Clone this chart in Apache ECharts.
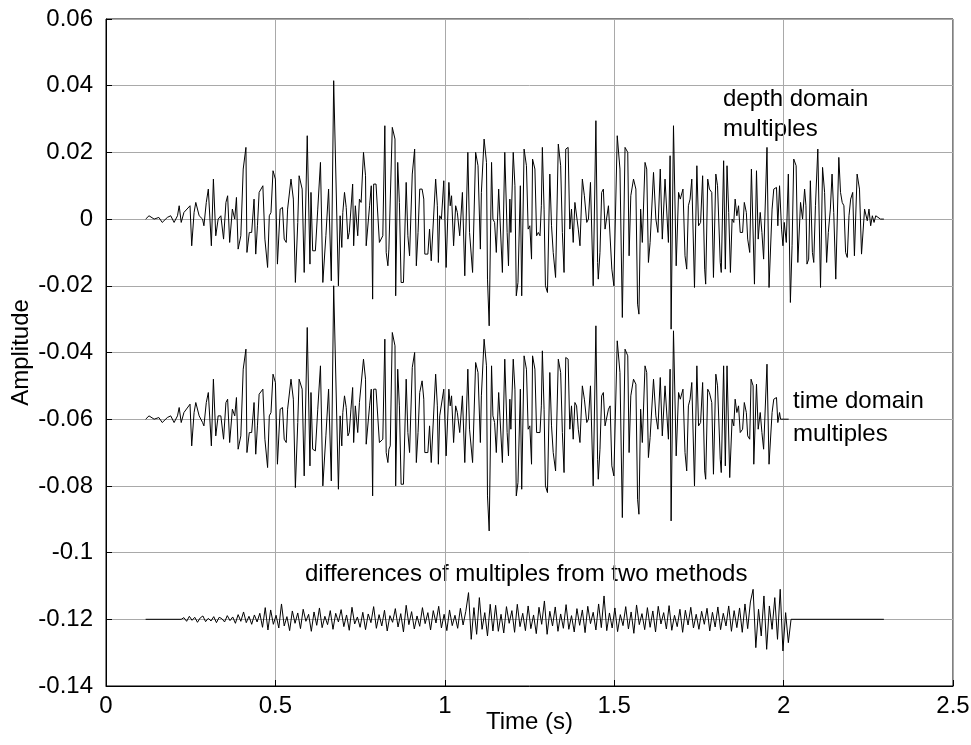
<!DOCTYPE html>
<html>
<head>
<meta charset="utf-8">
<script src="https://cdn.jsdelivr.net/npm/echarts@6/dist/echarts.min.js"></script>
<style>
html,body{margin:0;padding:0;background:#fff;}
#c{width:971px;height:745px;}
</style>
</head>
<body>
<div id="c"></div>
<script>
// ---- data (time in s, amplitude) ----
const xTicks = [0, 0.5, 1, 1.5, 2, 2.5];
const yTicks = [-0.14, -0.12, -0.1, -0.08, -0.06, -0.04, -0.02, 0, 0.02, 0.04, 0.06];
const traceNames = ['depth domain multiples', 'time domain multiples', 'differences of multiples from two methods'];
const traceOffsets = [0, -0.06, -0.12];

const depthPts = [
[0.117,0],[0.122,-0.0005],[0.127,0.001],[0.142,0],[0.156,0.0005],[0.166,-0.001],[0.181,0.0005],[0.191,0.001],[0.201,-0.001],[0.211,0.001],
[0.216,0.004],[0.222,-0.001],[0.230,0.002],[0.248,0.004],[0.253,-0.008],[0.260,0.002],[0.265,0.005],[0.275,0.001],[0.285,0],[0.289,-0.002],
[0.296,0.005],[0.302,0.009],[0.311,-0.008],[0.317,0.012],[0.324,-0.005],[0.331,0],[0.339,0.001],[0.347,-0.006],[0.354,0.005],[0.359,0.007],
[0.365,-0.007],[0.373,0.003],[0.380,0],[0.385,0.0065],[0.390,-0.009],[0.398,-0.005],[0.405,0.015],[0.413,0.0215],[0.416,-0.010],[0.423,-0.004],
[0.430,-0.004],[0.437,0.006],[0.442,-0.0105],[0.447,-0.002],[0.452,0.008],[0.457,0.008],[0.463,0.010],[0.469,-0.006],[0.477,-0.0145],[0.482,0.001],
[0.487,0.002],[0.493,0.0145],[0.500,0.012],[0.506,-0.0135],[0.514,0.003],[0.521,0.0035],[0.526,-0.006],[0.532,-0.007],[0.536,0.003],[0.546,0.012],
[0.553,0.006],[0.559,-0.019],[0.566,-0.001],[0.570,0.013],[0.579,0.009],[0.585,-0.016],[0.594,0.025],[0.602,-0.0135],[0.605,0.008],[0.610,-0.0095],
[0.618,-0.0095],[0.625,0.003],[0.633,0.017],[0.640,-0.019],[0.649,-0.005],[0.657,0.009],[0.665,-0.0185],[0.672,0.0415],[0.686,-0.020],[0.691,0.001],
[0.696,-0.0085],[0.699,0.002],[0.704,0.008],[0.709,0.0035],[0.714,-0.006],[0.718,-0.004],[0.723,0.003],[0.728,0.0105],[0.731,-0.008],[0.736,0.004],
[0.743,-0.005],[0.748,0.006],[0.753,0.005],[0.760,0.020],[0.766,0.013],[0.768,-0.008],[0.773,-0.0085],[0.778,0.004],[0.783,0.010],[0.787,-0.024],
[0.790,0.0105],[0.797,0.0105],[0.807,-0.007],[0.817,-0.005],[0.823,0.028],[0.827,-0.010],[0.832,-0.014],[0.835,-0.009],[0.839,-0.009],[0.845,0.0275],
[0.853,0.024],[0.855,-0.023],[0.861,0.017],[0.866,0.005],[0.871,-0.019],[0.878,-0.019],[0.886,0.011],[0.891,-0.005],[0.896,-0.011],[0.904,0.0135],
[0.911,0.021],[0.916,-0.014],[0.921,-0.004],[0.926,0.009],[0.933,0.009],[0.938,0.006],[0.941,-0.0105],[0.950,-0.0105],[0.955,-0.003],[0.960,-0.0125],
[0.965,-0.013],[0.973,0.012],[0.978,0.004],[0.981,-0.013],[0.985,0.001],[0.990,0],[0.997,0.0115],[1.004,-0.0145],[1.012,0.011],[1.016,0.004],
[1.020,0.007],[1.026,-0.008],[1.032,0.004],[1.037,0.002],[1.044,-0.005],[1.052,0.008],[1.059,-0.017],[1.068,0.020],[1.073,-0.004],[1.082,-0.016],
[1.091,0.020],[1.098,0.016],[1.105,-0.009],[1.108,0.008],[1.116,0.024],[1.123,0.017],[1.126,-0.018],[1.131,-0.032],[1.138,0.017],[1.142,0],
[1.147,-0.001],[1.152,-0.010],[1.159,0.009],[1.164,0.009],[1.170,-0.016],[1.177,0.020],[1.184,-0.004],[1.188,-0.014],[1.192,0.006],[1.195,-0.004],
[1.202,0.020],[1.207,0.010],[1.211,-0.023],[1.216,-0.019],[1.223,0.010],[1.227,-0.023],[1.234,0.021],[1.241,0.016],[1.246,-0.003],[1.251,-0.002],
[1.256,-0.012],[1.259,0.018],[1.266,0.015],[1.271,-0.005],[1.276,-0.004],[1.281,-0.005],[1.285,0.004],[1.288,0.0215],[1.293,0.003],[1.297,-0.020],
[1.303,-0.022],[1.310,0.0135],[1.315,-0.002],[1.320,-0.010],[1.327,-0.0175],[1.335,0.0225],[1.342,0.016],[1.347,-0.004],[1.352,-0.016],[1.357,0.021],
[1.364,0.0215],[1.369,-0.003],[1.374,0.003],[1.379,-0.007],[1.384,0.005],[1.389,0.005],[1.394,-0.003],[1.399,-0.008],[1.406,0.012],[1.412,0.007],
[1.419,-0.001],[1.424,0],[1.430,0.011],[1.438,-0.020],[1.446,0.0295],[1.451,-0.013],[1.453,-0.018],[1.458,-0.010],[1.463,0.008],[1.468,0.009],
[1.473,-0.003],[1.478,-0.003],[1.483,0.004],[1.488,0.004],[1.493,-0.015],[1.499,-0.020],[1.509,0.025],[1.517,0.015],[1.524,-0.0295],[1.532,0.0215],
[1.540,0.020],[1.544,-0.011],[1.549,0.007],[1.557,0.012],[1.564,0.009],[1.569,-0.0255],[1.573,-0.0285],[1.578,0.003],[1.583,-0.007],[1.591,0.017],
[1.596,0.015],[1.601,-0.013],[1.606,-0.007],[1.611,-0.007],[1.616,0.014],[1.623,0],[1.629,-0.004],[1.636,0.015],[1.642,-0.006],[1.650,0.012],
[1.660,-0.007],[1.665,0.019],[1.668,-0.033],[1.675,0.028],[1.683,-0.014],[1.690,0.008],[1.695,0.006],[1.703,0.009],[1.709,-0.011],[1.714,-0.015],
[1.719,0.004],[1.724,0.006],[1.729,0.012],[1.737,-0.0205],[1.744,0.016],[1.749,-0.002],[1.755,-0.001],[1.761,0.013],[1.767,-0.015],[1.770,-0.0195],
[1.776,0.012],[1.781,0.009],[1.788,0.008],[1.793,-0.0175],[1.800,0.0135],[1.805,0.010],[1.813,-0.013],[1.816,-0.016],[1.823,0.0175],[1.828,-0.015],
[1.833,0.016],[1.838,0.002],[1.843,-0.016],[1.848,0],[1.853,-0.001],[1.857,0.006],[1.862,0.001],[1.867,0.004],[1.872,-0.004],[1.879,-0.004],
[1.884,0.005],[1.890,0.002],[1.894,-0.006],[1.900,-0.010],[1.905,0.015],[1.910,0.0145],[1.914,-0.0195],[1.920,0.0145],[1.925,-0.006],[1.931,0.002],
[1.936,-0.004],[1.941,-0.012],[1.951,0.0215],[1.957,-0.0205],[1.966,0.003],[1.971,0.009],[1.979,0.0095],[1.983,-0.002],[1.988,0.010],[1.994,-0.003],
[1.998,-0.008],[2.002,-0.001],[2.008,-0.007],[2.014,0.0135],[2.020,-0.025],[2.025,-0.008],[2.030,0.018],[2.037,0.016],[2.042,-0.013],[2.046,-0.013],
[2.050,0.005],[2.056,0],[2.062,0.009],[2.066,0.004],[2.069,-0.0135],[2.074,-0.012],[2.079,0.0115],[2.085,-0.010],[2.089,-0.013],[2.094,0.004],
[2.101,0.021],[2.109,-0.0205],[2.115,0.0155],[2.121,0.008],[2.127,-0.013],[2.132,-0.004],[2.138,0.003],[2.143,0.0135],[2.148,0.002],[2.154,-0.018],
[2.163,0.0185],[2.168,0.008],[2.173,0.005],[2.178,0.004],[2.183,-0.010],[2.188,-0.0115],[2.193,0.001],[2.198,0.006],[2.204,0.008],[2.209,-0.011],
[2.217,0.0135],[2.224,0.009],[2.230,-0.0105],[2.235,-0.011],[2.239,0.003],[2.243,0.003],[2.247,-0.0005],[2.252,0.003],[2.257,-0.002],[2.262,0.001],
[2.267,-0.001],[2.272,0.001],[2.277,0.0005],[2.286,0],[2.296,0]
];

const timePts = [
[0.117,0],[0.122,-0.0005],[0.127,0.001],[0.142,0],[0.156,0.0005],[0.166,-0.001],[0.181,0.0005],[0.191,0.001],[0.201,-0.001],[0.211,0.001],
[0.216,0.0035],[0.222,-0.001],[0.230,0.002],[0.248,0.0045],[0.253,-0.008],[0.260,0.002],[0.265,0.005],[0.275,0.001],[0.285,-0.001],[0.289,-0.002],
[0.296,0.005],[0.302,0.008],[0.311,-0.008],[0.317,0.012],[0.324,-0.005],[0.331,0.001],[0.339,0.001],[0.347,-0.006],[0.354,0.005],[0.359,0.006],
[0.365,-0.007],[0.373,0.003],[0.380,0.001],[0.385,0.0065],[0.390,-0.009],[0.398,-0.005],[0.405,0.015],[0.413,0.021],[0.416,-0.010],[0.423,-0.004],
[0.430,-0.004],[0.437,0.005],[0.442,-0.0105],[0.447,-0.002],[0.452,0.0075],[0.457,0.008],[0.463,0.009],[0.469,-0.006],[0.477,-0.0145],[0.482,0.001],
[0.487,0.002],[0.493,0.0135],[0.500,0.011],[0.506,-0.0135],[0.514,0.003],[0.521,0.0035],[0.526,-0.006],[0.532,-0.007],[0.536,0.003],[0.546,0.012],
[0.553,0.006],[0.559,-0.0205],[0.566,-0.001],[0.570,0.012],[0.579,0.009],[0.585,-0.017],[0.594,0.0275],[0.602,-0.014],[0.605,0.008],[0.610,-0.009],
[0.618,-0.0095],[0.625,0.003],[0.633,0.016],[0.640,-0.020],[0.649,-0.005],[0.657,0.009],[0.665,-0.0185],[0.672,0.040],[0.686,-0.021],[0.691,0.001],
[0.696,-0.008],[0.699,0.002],[0.704,0.007],[0.709,0.0035],[0.714,-0.005],[0.718,-0.004],[0.723,0.003],[0.728,0.0095],[0.731,-0.007],[0.736,0.004],
[0.743,-0.004],[0.748,0.005],[0.753,0.005],[0.760,0.018],[0.766,0.012],[0.768,-0.0075],[0.773,-0.0075],[0.778,0.004],[0.783,0.009],[0.787,-0.023],
[0.790,0.009],[0.797,0.009],[0.807,-0.007],[0.817,-0.006],[0.823,0.024],[0.827,-0.010],[0.832,-0.013],[0.835,-0.009],[0.839,-0.008],[0.845,0.026],
[0.853,0.022],[0.855,-0.020],[0.861,0.015],[0.866,0.004],[0.871,-0.0195],[0.878,-0.0195],[0.886,0.012],[0.891,-0.004],[0.896,-0.010],[0.904,0.0155],
[0.911,0.020],[0.916,-0.013],[0.921,-0.004],[0.926,0.008],[0.933,0.0115],[0.938,0.006],[0.941,-0.010],[0.950,-0.010],[0.955,-0.002],[0.960,-0.013],
[0.965,-0.0125],[0.973,0.0135],[0.978,0.004],[0.981,-0.0135],[0.985,0.001],[0.990,0.001],[0.997,0.009],[1.004,-0.011],[1.012,0.009],[1.016,0.004],
[1.020,0.007],[1.026,-0.007],[1.032,0.004],[1.037,0.002],[1.044,-0.004],[1.052,0.007],[1.059,-0.013],[1.068,0.015],[1.073,-0.003],[1.082,-0.013],
[1.091,0.017],[1.098,0.014],[1.105,-0.007],[1.108,0.007],[1.116,0.024],[1.123,0.016],[1.126,-0.023],[1.131,-0.0335],[1.138,0.016],[1.142,0.001],
[1.147,-0.001],[1.152,-0.010],[1.159,0.008],[1.164,0.008],[1.170,-0.013],[1.177,0.018],[1.184,-0.004],[1.188,-0.011],[1.192,0.006],[1.195,-0.003],
[1.202,0.018],[1.207,0.009],[1.211,-0.023],[1.216,-0.019],[1.223,0.009],[1.227,-0.021],[1.234,0.019],[1.241,0.015],[1.246,-0.003],[1.251,-0.002],
[1.256,-0.0135],[1.259,0.019],[1.266,0.015],[1.271,-0.004],[1.276,-0.004],[1.281,-0.004],[1.285,0.004],[1.288,0.0205],[1.293,0.003],[1.297,-0.020],
[1.303,-0.022],[1.310,0.014],[1.315,-0.002],[1.320,-0.010],[1.327,-0.0155],[1.335,0.018],[1.342,0.014],[1.347,-0.004],[1.352,-0.016],[1.357,0.0185],
[1.364,0.018],[1.369,-0.003],[1.374,0.004],[1.379,-0.006],[1.384,0.005],[1.389,0.004],[1.394,-0.003],[1.399,-0.007],[1.406,0.010],[1.412,0.006],
[1.419,-0.001],[1.424,0],[1.430,0.010],[1.438,-0.020],[1.446,0.028],[1.451,-0.012],[1.453,-0.018],[1.458,-0.009],[1.463,0.007],[1.468,0.008],
[1.473,-0.002],[1.478,-0.002],[1.483,0.003],[1.488,0.004],[1.493,-0.014],[1.499,-0.017],[1.509,0.0235],[1.517,0.014],[1.524,-0.0295],[1.532,0.021],
[1.540,0.019],[1.544,-0.010],[1.549,0.007],[1.557,0.012],[1.564,0.0105],[1.569,-0.024],[1.573,-0.0285],[1.578,0.003],[1.583,-0.007],[1.591,0.016],
[1.596,0.014],[1.601,-0.0115],[1.606,-0.0055],[1.611,-0.0055],[1.616,0.012],[1.623,0.001],[1.629,-0.003],[1.636,0.0125],[1.642,-0.005],[1.650,0.010],
[1.660,-0.006],[1.665,0.015],[1.668,-0.0305],[1.675,0.0265],[1.683,-0.011],[1.690,0.008],[1.695,0.006],[1.703,0.009],[1.709,-0.010],[1.714,-0.0155],
[1.719,0.004],[1.724,0.006],[1.729,0.011],[1.737,-0.020],[1.744,0.016],[1.749,-0.002],[1.755,-0.001],[1.761,0.011],[1.767,-0.0155],[1.770,-0.018],
[1.776,0.009],[1.781,0.008],[1.788,0.005],[1.793,-0.0165],[1.800,0.0135],[1.805,0.010],[1.813,-0.012],[1.816,-0.016],[1.823,0.016],[1.828,-0.014],
[1.833,0.016],[1.841,-0.0175],[1.848,0],[1.853,-0.002],[1.857,0.006],[1.862,0.002],[1.867,0.004],[1.872,-0.004],[1.879,-0.003],[1.884,0.005],
[1.890,0.002],[1.894,-0.005],[1.900,-0.006],[1.904,0.012],[1.910,0.010],[1.912,-0.0135],[1.920,0.0105],[1.925,-0.003],[1.931,0.002],[1.936,-0.004],
[1.941,-0.009],[1.951,0.0165],[1.957,-0.0135],[1.966,0.002],[1.971,0.006],[1.979,0.0065],[1.983,-0.001],[1.988,0.002],[1.991,0],[2.015,0]
];

// differences: sampled every diffDt seconds starting at diffStart
const diffStart = 0.230;
const diffDt = 0.008;
const diffLeadT = [0.117, 0.222];
const diffTailT = [2.022, 2.296];
const diffVals = [
0.0005,-0.0006,0.0009,-0.0003,0.0006,-0.0009,0.0004,0.0010,-0.0007,0.0003,
-0.0005,0.0008,-0.0010,0.0006,0.0002,-0.0008,0.0011,-0.0004,0.0007,-0.0012,
0.0014,-0.0006,0.0022,-0.0010,0.0009,-0.0015,0.0013,-0.0008,0.0018,-0.0024,
0.0035,-0.0032,
0.0028,-0.0015,0.0012,-0.0026,0.0046,-0.0020,0.0008,-0.0034,0.0025,-0.0012,
0.0019,-0.0028,0.0030,-0.0006,0.0015,-0.0036,0.0022,-0.0018,0.0034,-0.0025,
0.0009,-0.0016,0.0026,-0.0030,0.0018,-0.0008,0.0029,-0.0022,0.0013,-0.0033,
0.0036,-0.0014,0.0007,-0.0024,0.0021,-0.0031,0.0016,-0.0010,0.0038,-0.0027,
0.0014,-0.0020,0.0027,-0.0035,0.0011,-0.0009,0.0032,-0.0023,0.0017,-0.0038,
0.0042,-0.0016,0.0023,-0.0029,0.0010,-0.0021,0.0035,-0.0013,0.0020,-0.0032,
0.0026,-0.0011,0.0039,-0.0026,0.0015,-0.0034,0.0028,-0.0019,0.0012,-0.0027,
0.0033,-0.0017,0.0024,
0.0080,-0.0060,0.0035,-0.0045,0.0065,-0.0030,0.0020,-0.0050,0.0045,-0.0035,
0.0042,-0.0036,0.0015,-0.0041,0.0038,-0.0012,0.0026,-0.0039,0.0045,-0.0022,
0.0018,-0.0034,0.0040,-0.0028,0.0013,-0.0043,0.0036,-0.0015,0.0055,-0.0045,
0.0024,-0.0020,0.0037,-0.0036,0.0016,-0.0027,0.0044,-0.0030,0.0011,-0.0038,
0.0032,-0.0018,0.0028,-0.0040,0.0039,-0.0013,0.0021,-0.0032,0.0046,-0.0025,
0.0070,-0.0034,0.0019,-0.0026,0.0034,-0.0037,0.0014,-0.0019,0.0038,-0.0029,
0.0022,-0.0042,0.0043,-0.0016,0.0017,-0.0031,0.0035,-0.0024,0.0025,-0.0038,
0.0039,-0.0014,0.0020,-0.0029,0.0041,-0.0033,0.0012,-0.0022,0.0030,-0.0039,
0.0027,-0.0017,0.0036,-0.0026,0.0015,-0.0030,0.0024,-0.0015,0.0033,-0.0035,
0.0021,-0.0023,0.0037,-0.0031,0.0018,-0.0020,0.0040,-0.0036,0.0026,-0.0025,
0.0034,-0.0039,0.0046,-0.0028,0.0052,
0.0090,-0.0085,0.0030,-0.0050,0.0070,-0.0090,0.0040,-0.0030,0.0065,-0.0060,
0.0090,-0.0095,0.0020,-0.0070
];

// ---- build series ----
function shifted(pts, off) { return pts.map(p => [p[0], p[1] + off]); }
const diffPts = [[diffLeadT[0], 0], [diffLeadT[1], 0]]
  .concat(diffVals.map((v, i) => [+(diffStart + i * diffDt).toFixed(4), v]))
  .concat([[diffTailT[0], 0], [diffTailT[1], 0]]);

const FONT = 'Liberation Sans, Arial, Helvetica, sans-serif';
const FS = 24;
const lineCommon = {
  type: 'line', showSymbol: false, symbol: 'none', silent: true,
  lineStyle: { color: '#000', width: 1 }, animation: false, sampling: null
};
const fmt = v => String(parseFloat(Number(v).toFixed(2)));

const chart = echarts.init(document.getElementById('c'), null, { renderer: 'canvas' });
chart.setOption({
  backgroundColor: '#fff',
  animation: false,
  grid: { left: 106, right: 18, top: 19, bottom: 59, outerBoundsMode: 'none', containLabel: false,
          show: true, borderColor: '#000', borderWidth: 1, backgroundColor: 'transparent' },
  xAxis: {
    type: 'value', min: xTicks[0], max: xTicks[xTicks.length - 1], interval: 0.5,
    name: 'Time (s)', nameLocation: 'middle', nameGap: 24, nameMoveOverlap: false,
    nameTextStyle: { fontFamily: FONT, fontSize: FS, color: '#000' },
    axisLine: { show: true, onZero: false, lineStyle: { color: '#000', width: 1 } },
    axisTick: { show: true, inside: true, length: 6, lineStyle: { color: '#000' } },
    axisLabel: { fontFamily: FONT, fontSize: FS, color: '#000', margin: 8, formatter: fmt },
    splitLine: { show: true, lineStyle: { color: '#a9a9a9', width: 1 } }
  },
  yAxis: {
    type: 'value', min: yTicks[0], max: yTicks[yTicks.length - 1], interval: 0.02,
    name: 'Amplitude', nameLocation: 'middle', nameGap: 73, nameRotate: 90, nameMoveOverlap: false,
    nameTextStyle: { fontFamily: FONT, fontSize: FS, color: '#000' },
    axisLine: { show: true, onZero: false, lineStyle: { color: '#000', width: 1 } },
    axisTick: { show: true, inside: true, length: 6, lineStyle: { color: '#000' } },
    axisLabel: { fontFamily: FONT, fontSize: FS, color: '#000', margin: 13, formatter: fmt },
    splitLine: { show: true, lineStyle: { color: '#a9a9a9', width: 1 } }
  },
  series: [
    Object.assign({ name: traceNames[0], data: shifted(depthPts, traceOffsets[0]) }, lineCommon),
    Object.assign({ name: traceNames[1], data: shifted(timePts, traceOffsets[1]) }, lineCommon),
    Object.assign({ name: traceNames[2], data: shifted(diffPts, traceOffsets[2]) }, lineCommon)
  ],
  graphic: [
    { type: 'text', x: 723, y: 99, style: { text: 'depth domain', font: FS + 'px ' + FONT, fill: '#000', verticalAlign: 'middle' } },
    { type: 'text', x: 723, y: 129, style: { text: 'multiples', font: FS + 'px ' + FONT, fill: '#000', verticalAlign: 'middle' } },
    { type: 'text', x: 793, y: 401, style: { text: 'time domain', font: FS + 'px ' + FONT, fill: '#000', verticalAlign: 'middle' } },
    { type: 'text', x: 793, y: 434, style: { text: 'multiples', font: FS + 'px ' + FONT, fill: '#000', verticalAlign: 'middle' } },
    { type: 'text', x: 305, y: 574, style: { text: 'differences of multiples from two methods', font: FS + 'px ' + FONT, fill: '#000', verticalAlign: 'middle' } }
  ]
});
</script>
</body>
</html>
